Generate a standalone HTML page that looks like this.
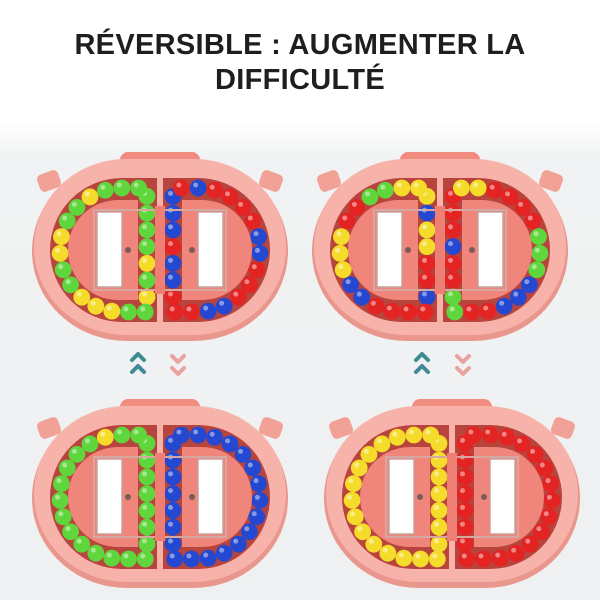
<!DOCTYPE html>
<html><head><meta charset="utf-8"><style>
html,body{margin:0;padding:0;background:#fff;}
#wrap{width:600px;height:600px;position:relative;overflow:hidden;background:linear-gradient(#fff 0,#fff 120px,#f0f2f3 160px,#eef0f1 600px);}
h1{position:absolute;top:28px;left:0;width:600px;margin:0;text-align:center;font:bold 29px/35px "Liberation Sans",sans-serif;color:#1e1e1e;letter-spacing:0.3px;}
svg{position:absolute;left:0;top:0;}
</style></head><body><div id="wrap">
<h1>RÉVERSIBLE : AUGMENTER LA<br>DIFFICULTÉ</h1>
<svg id="s" width="600" height="600" viewBox="0 0 600 600" xmlns="http://www.w3.org/2000/svg">
<g fill="none" stroke-width="4" stroke-linecap="round" stroke-linejoin="round">
<path d="M132 360l6-6 6 6M132 372l6-6 6 6" stroke="#3f8a93"/>
<path d="M172 356l6 6 6-6M172 368l6 6 6-6" stroke="#e9a3a0"/>
<path d="M416 360l6-6 6 6M416 372l6-6 6 6" stroke="#3f8a93"/>
<path d="M457 356l6 6 6-6M457 368l6 6 6-6" stroke="#e9a3a0"/>
</g>
</svg>
<script>
var s=document.getElementById('s'),NS='http://www.w3.org/2000/svg';
function el(t,a,p){var e=document.createElementNS(NS,t);for(var k in a)e.setAttribute(k,a[k]);(p||s).appendChild(e);return e;}
var C={g:'#5fd63c',y:'#f5dc2a',r:'#e42323',b:'#2448d0'};
function pts(sd){
 var P=[],n=22,R=62,X0=-13,XC=-38;var L1=X0-XC,L2=Math.PI*R,L4=2*R,T=2*L1+L2+L4;
 for(var i=0;i<n;i++){var d=(i+0.5)*T/n,x,y;
  if(d<L4){x=X0;y=-R+d;}
  else if(d<L4+L1){x=X0-(d-L4);y=R;}
  else if(d<L4+L1+L2){var a=(d-L4-L1)/R;x=XC-R*Math.sin(a);y=R*Math.cos(a);}
  else{x=XC+(d-L4-L1-L2);y=-R;}
  P.push([x*(-sd),y]);}
 return P;}
function toy(cx,cy,pl,pr){
 var g=el('g',{transform:'translate('+cx+','+cy+')'});
 el('rect',{x:-40,y:-98,width:80,height:20,rx:8,fill:'#f08c80'},g);
 el('rect',{x:-122,y:-78,width:22,height:18,rx:5,fill:'#f2a196',transform:'rotate(-20 -111 -69)'},g);
 el('rect',{x:100,y:-78,width:22,height:18,rx:5,fill:'#f2a196',transform:'rotate(20 111 -69)'},g);
 el('rect',{x:-128,y:-89,width:256,height:180,rx:95,fill:'#e9978c'},g);
 el('rect',{x:-126,y:-91,width:252,height:176,rx:92,fill:'#f7b3a9'},g);
 [-1,1].forEach(function(sd){
  var sw=sd<0?0:1;
  el('path',{d:'M'+(3*sd)+' -72 L'+(38*sd)+' -72 A72 72 0 0 '+sw+' '+(38*sd)+' 72 L'+(3*sd)+' 72Z',fill:'#b8443e'},g);
  var P=pts(sd),cols=sd<0?pl:pr;
  P.forEach(function(p,i){var c=C[cols[i%cols.length]];
   el('circle',{cx:p[0],cy:p[1],r:8.4,fill:c},g);
   el('circle',{cx:p[0]-2.5,cy:p[1]-3,r:2.5,fill:'#fff',opacity:0.45},g);});
  el('path',{d:'M'+(22*sd)+' -50 L'+(42*sd)+' -50 A50 50 0 0 '+sw+' '+(42*sd)+' 50 L'+(22*sd)+' 50Z',fill:'#f0857b'},g);
 });
 el('rect',{x:-66,y:-40,width:132,height:80,fill:'none',stroke:'#d7a8a2',"stroke-width":2},g);
 el('rect',{x:-63,y:-38,width:25,height:75,fill:'#fff',stroke:'#c9a09b',"stroke-width":1.5},g);
 el('rect',{x:38,y:-38,width:25,height:75,fill:'#fff',stroke:'#c9a09b',"stroke-width":1.5},g);
 el('rect',{x:-5,y:-44,width:10,height:88,fill:'#ef7f75'},g);
 el('circle',{cx:-32,cy:0,r:3,fill:'#7a5b58'},g);
 el('circle',{cx:32,cy:0,r:3,fill:'#7a5b58'},g);
}
toy(160,250,'ggggygyggyyyggyyggyggg'.split(''),'bbbrbbrrrbbrrrbbrrrrbr'.split(''));
toy(440,250,'ybyyrrbrrrrbbyyyrrggyy'.split(''),'rrrbrrggrrbbbgggrrrryy'.split(''));
toy(160,497,'gggggggggggggggggggygg'.split(''),'bbbbbbbbbbbbbbbbbbbbbb'.split(''));
toy(452,497,'yyyyyyyyyyyyyyyyyyyyyy'.split(''),'rrrrrrrrrrrrrrrrrrrrrr'.split(''));
</script>
</div></body></html>
